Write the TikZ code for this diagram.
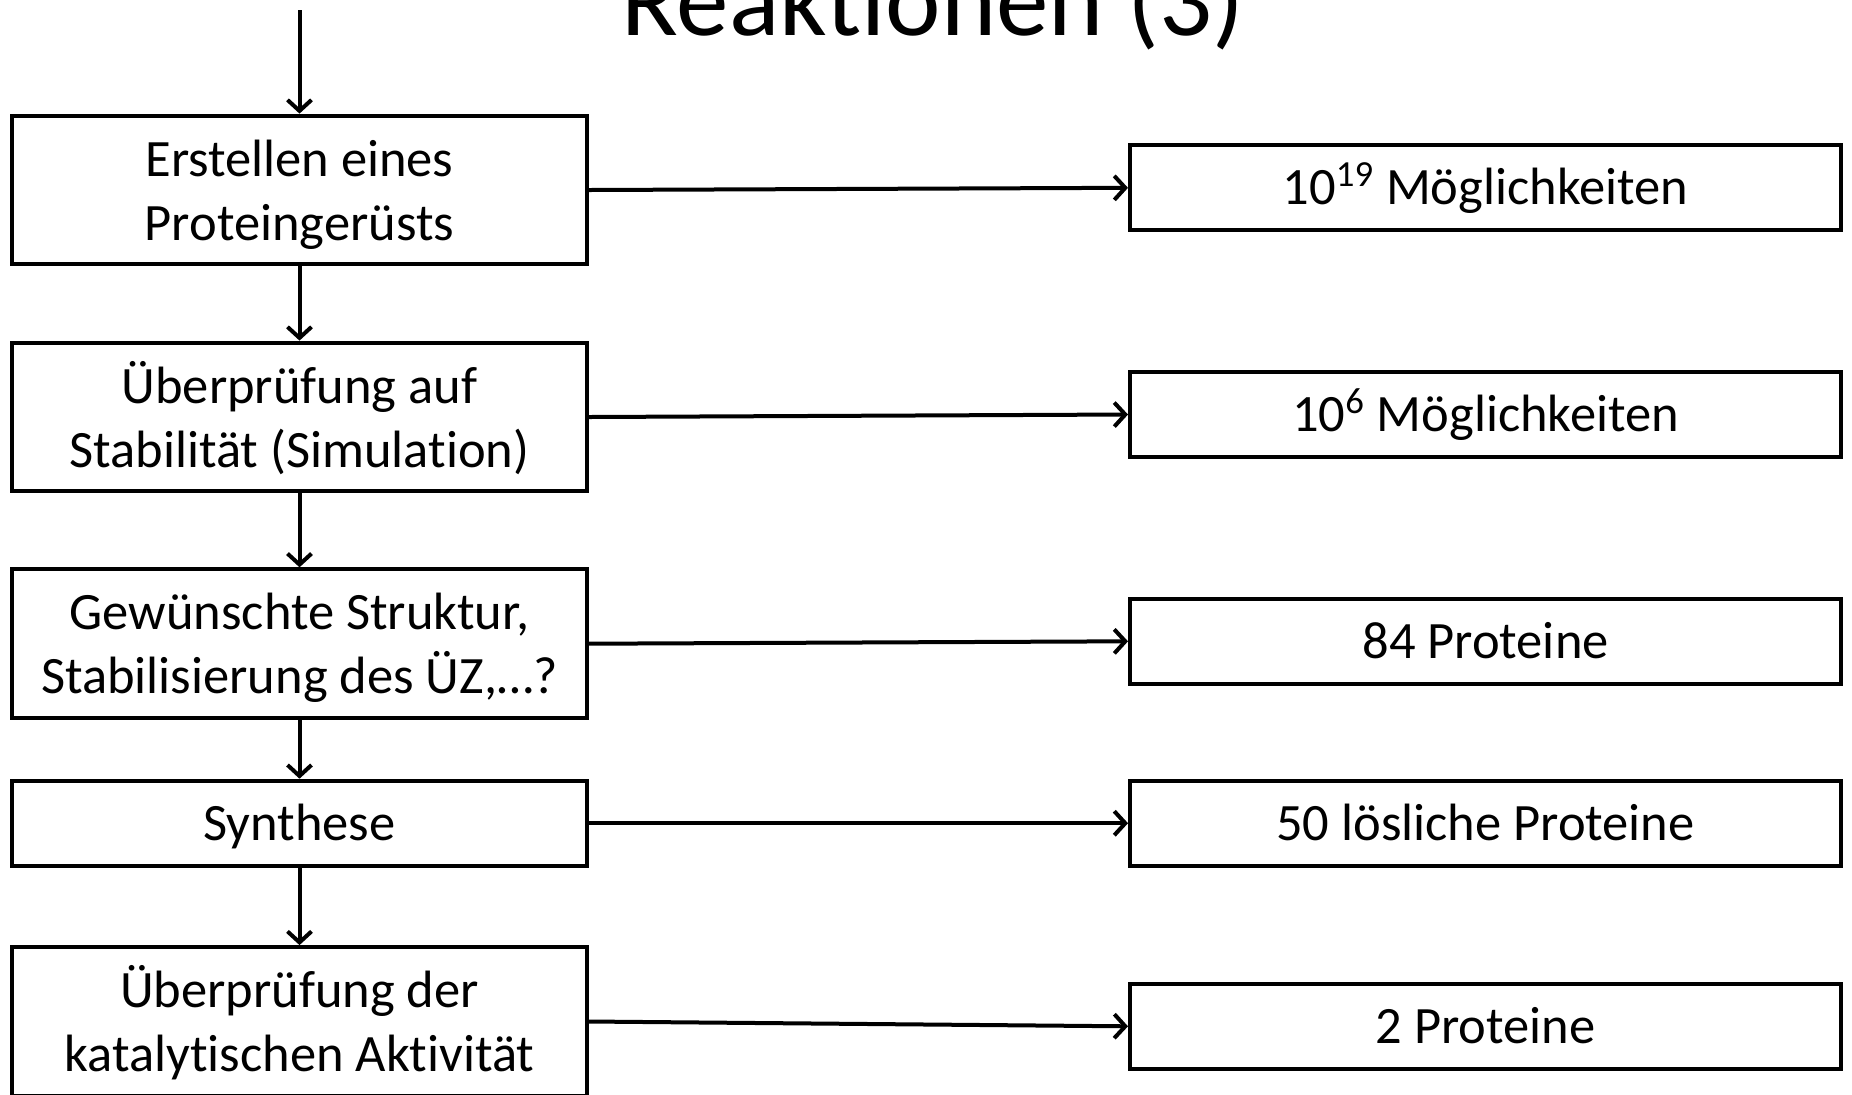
\documentclass[tikz,border=0pt]{standalone}
\usepackage{fontspec}
\setmainfont{Carlito}
\usetikzlibrary{arrows.meta}
% no "ti" ligature as in the slide
\newcommand{\nolig}{\kern0pt}

\begin{document}
\begin{tikzpicture}[
    x=0.5pt, y=-0.5pt,
    box/.style={draw, line width=2pt, rectangle, align=center, inner sep=0pt, minimum width=287.5pt, minimum height=74.4pt, text height=60pt, text depth=10pt, font=\fontsize{26.25}{31.9}\selectfont},
    onebox/.style={box, minimum height=42.5pt, text height=24pt, text depth=7pt},
    resbox/.style={onebox, minimum width=355.5pt},
    arrow/.style={-{Straight Barb[length=5.5pt,width=12pt]}, line width=2pt}
]
\clip (0,0) rectangle (1852,1094);
\node (title) [anchor=base, font=\fontsize{52.5}{63}\selectfont] at (933,35) {Reakt\nolig ionen (3)};
\node (s1) [box] at (299.5,190) {Erstellen eines\\Proteingerüsts};
\node (s2) [box] at (299.5,417) {Überprüfung auf\\Stabilität (Simulat\nolig ion)};
\node (s3) [box] at (299.5,643.7) {Gewünschte Struktur,\\Stabilisierung des ÜZ,…?};
\node (s4) [onebox] at (299.5,823.2) {Synthese};
\node (s5) [box] at (299.5,1021.5) {Überprüfung der\\katalyt\nolig ischen Akt\nolig ivität};
\node (r1) [resbox] at (1485.5,187.8) {10\textsuperscript{19} Möglichkeiten};
\node (r2) [resbox] at (1485.5,414.5) {10\textsuperscript{6} Möglichkeiten};
\node (r3) [resbox] at (1485.5,641.3) {84 Proteine};
\node (r4) [resbox] at (1485.5,823.2) {50 lösliche Proteine};
\node (r5) [resbox] at (1485.5,1026.3) {2 Proteine};
\coordinate (start) at (299.5,10);
\draw[arrow] (start) -- (s1.north);
\draw[arrow] (s1) -- (s2);
\draw[arrow] (s2) -- (s3);
\draw[arrow] (s3) -- (s4);
\draw[arrow] (s4) -- (s5);
\draw[arrow] (s1.east) -- (r1.west);
\draw[arrow] (s2.east) -- (r2.west);
\draw[arrow] (s3.east) -- (r3.west);
\draw[arrow] (s4.east) -- (r4.west);
\draw[arrow] (s5.east) -- (r5.west);
\end{tikzpicture}
\end{document}
